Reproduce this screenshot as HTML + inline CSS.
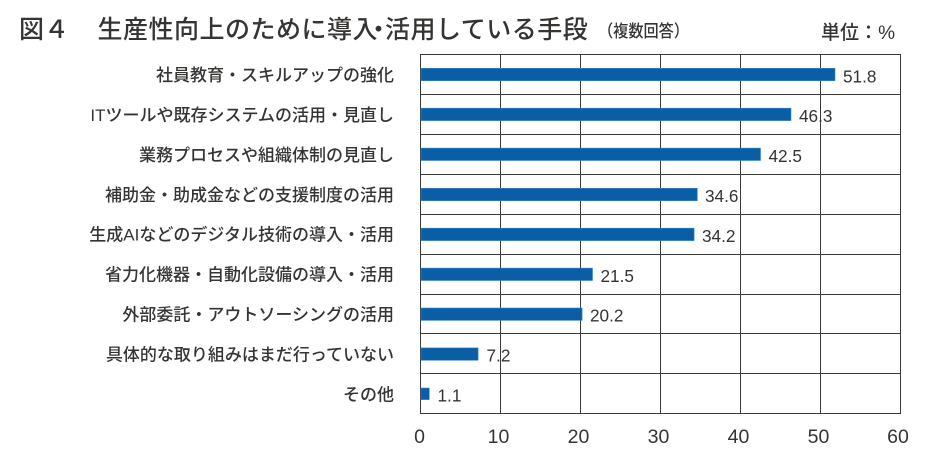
<!DOCTYPE html>
<html>
<head>
<meta charset="utf-8">
<style>
html,body{margin:0;padding:0;background:#fff;}
svg{display:block;}
text{font-family:"Liberation Sans","Noto Sans CJK JP",sans-serif;fill:#363433;}
.m{font-weight:500;}
</style>
</head>
<body>
<svg width="927" height="458" viewBox="0 0 927 458" xmlns="http://www.w3.org/2000/svg">
  <!-- Title -->
  <g class="m">
  <text x="19" y="38" font-size="25">図４</text>
  <text x="97.5" y="38" font-size="25" letter-spacing="0.5">生産性向上のために導入</text>
  <text x="378.5" y="38" font-size="25" text-anchor="middle">・</text>
  <text x="385" y="38" font-size="25" letter-spacing="0.5">活用している手段</text>
  <text x="598" y="37" font-size="17" textLength="91" lengthAdjust="spacingAndGlyphs">（複数回答）</text>
  <text x="821" y="39" font-size="19.5" textLength="74" lengthAdjust="spacingAndGlyphs">単位：%</text>
  </g>

  <!-- Grid -->
  <g stroke="#3a3a3a" stroke-width="1" fill="none">
    <rect x="420.5" y="54.5" width="480" height="359"/>
    <line x1="500.5" y1="54.5" x2="500.5" y2="413.5"/>
    <line x1="580.5" y1="54.5" x2="580.5" y2="413.5"/>
    <line x1="660.5" y1="54.5" x2="660.5" y2="413.5"/>
    <line x1="740.5" y1="54.5" x2="740.5" y2="413.5"/>
    <line x1="820.5" y1="54.5" x2="820.5" y2="413.5"/>
    <line x1="420.5" y1="94.5" x2="900.5" y2="94.5"/>
    <line x1="420.5" y1="134.5" x2="900.5" y2="134.5"/>
    <line x1="420.5" y1="174.5" x2="900.5" y2="174.5"/>
    <line x1="420.5" y1="214.5" x2="900.5" y2="214.5"/>
    <line x1="420.5" y1="254.5" x2="900.5" y2="254.5"/>
    <line x1="420.5" y1="294.5" x2="900.5" y2="294.5"/>
    <line x1="420.5" y1="333.5" x2="900.5" y2="333.5"/>
    <line x1="420.5" y1="373.5" x2="900.5" y2="373.5"/>
  </g>

  <!-- Bars -->
  <g fill="#0a5ea6" stroke="#3f86c4" stroke-width="0.6">
    <rect x="421" y="68.3" width="414.0" height="12.4"/>
    <rect x="421" y="108.2" width="370.0" height="12.4"/>
    <rect x="421" y="148.1" width="339.5" height="12.4"/>
    <rect x="421" y="188.3" width="276.3" height="12.4"/>
    <rect x="421" y="228.2" width="273.1" height="12.4"/>
    <rect x="421" y="268.1" width="171.5" height="12.4"/>
    <rect x="421" y="308.0" width="161.1" height="12.4"/>
    <rect x="421" y="347.9" width="57.1" height="12.4"/>
    <rect x="421" y="388.0" width="8.3" height="11.6"/>
  </g>

  <!-- Value labels -->
  <g font-size="17.2" class="m">
    <text x="843" y="82.3">51.8</text>
    <text x="799" y="122.2">46.3</text>
    <text x="768.5" y="162.1">42.5</text>
    <text x="705" y="202">34.6</text>
    <text x="702" y="241.9">34.2</text>
    <text x="600.5" y="281.8">21.5</text>
    <text x="590" y="321.7">20.2</text>
    <text x="486.5" y="361.6">7.2</text>
    <text x="437.5" y="401.5">1.1</text>
  </g>

  <!-- Category labels -->
  <g font-size="17" text-anchor="end" class="m">
    <text x="394" y="81">社員教育・スキルアップの強化</text>
    <text x="394" y="121">ITツールや既存システムの活用・見直し</text>
    <text x="394" y="161">業務プロセスや組織体制の見直し</text>
    <text x="394" y="200.8">補助金・助成金などの支援制度の活用</text>
    <text x="394" y="240.7">生成AIなどのデジタル技術の導入・活用</text>
    <text x="394" y="280.6">省力化機器・自動化設備の導入・活用</text>
    <text x="394" y="320.5">外部委託・アウトソーシングの活用</text>
    <text x="394" y="360.4">具体的な取り組みはまだ行っていない</text>
    <text x="394" y="400.3">その他</text>
  </g>

  <!-- X tick labels -->
  <g font-size="19.5" text-anchor="middle" class="m">
    <text x="419.5" y="443">0</text>
    <text x="498.5" y="443">10</text>
    <text x="578.5" y="443">20</text>
    <text x="658.5" y="443">30</text>
    <text x="738.5" y="443">40</text>
    <text x="818.5" y="443">50</text>
    <text x="898" y="443">60</text>
  </g>
</svg>
</body>
</html>
